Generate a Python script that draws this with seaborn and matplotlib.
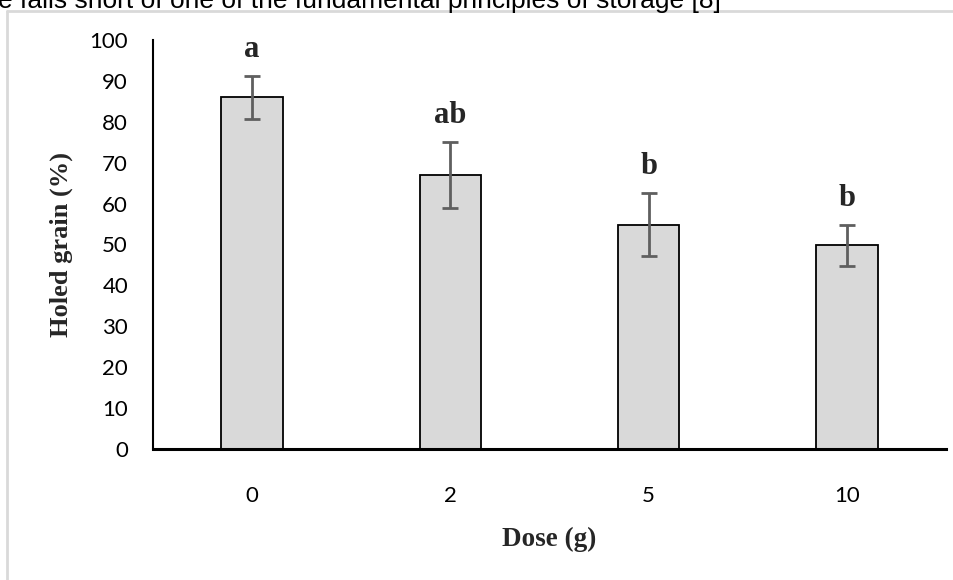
import numpy as np
import pandas as pd
import matplotlib
matplotlib.use("Agg")
import matplotlib.pyplot as plt
import seaborn as sns
from matplotlib.lines import Line2D

# data
doses = ["0", "2", "5", "10"]
holed_mean = [86.0, 67.0, 54.8, 49.8]
holed_err = [5.2, 8.0, 7.7, 5.0]
groups = ["a", "ab", "b", "b"]

df = pd.DataFrame({"dose": doses, "holed": holed_mean})

sns.set_theme(style="white")
plt.rcParams["font.family"] = ["Lato", "DejaVu Sans"]

fig = plt.figure(figsize=(9.54, 5.8), dpi=100)
ax = fig.add_axes([0.1604, 0.2259, 0.8312, 0.7051])

sns.barplot(data=df, x="dose", y="holed", order=doses, color="#d9d9d9",
            edgecolor="black", linewidth=1.3, width=0.31, errorbar=None,
            saturation=1, ax=ax)

# custom error bars at the bar centres
xs = [p.get_x() + p.get_width() / 2 for p in ax.patches]
ax.errorbar(xs, holed_mean, yerr=holed_err, fmt="none", ecolor="#5f5f5f",
            elinewidth=2, capsize=6, capthick=2)

# significance letters
for x, m, e, g in zip(xs, holed_mean, holed_err, groups):
    ax.text(x, m + e + 3.0, g, ha="center", va="bottom",
            fontsize=22, fontweight="bold", family="Liberation Serif")

ax.set_ylim(0, 100)
ax.set_xlim(-0.5, 3.5)
ax.set_yticks(np.arange(0, 101, 10))
ax.tick_params(axis="both", length=0, labelsize=16, colors="black")
ax.tick_params(axis="y", pad=18)
ax.tick_params(axis="x", pad=27)

sns.despine(ax=ax, top=True, right=True)
ax.spines["left"].set_color("black")
ax.spines["left"].set_linewidth(1.5)
ax.spines["bottom"].set_color("black")
ax.spines["bottom"].set_linewidth(2.2)

ax.set_ylabel("Holed grain (%)", fontsize=19, fontweight="bold",
              family="Liberation Serif")
ax.set_xlabel("Dose (g)", fontsize=19.5, fontweight="bold",
              family="Liberation Serif")
ax.yaxis.set_label_coords(-0.101, 0.5)
ax.xaxis.set_label_coords(0.5, -0.19)

# page remnants around the chart
fig.text(-0.002, 1 - 8 / 580, "e falls short of one of the fundamental principles of storage [8]",
         fontsize=19, family="Liberation Sans", va="baseline", ha="left", color="black")
fig.add_artist(Line2D([7 / 954, 7 / 954], [0, 1 - 11 / 580], color="#d9d9d9", lw=2))
fig.add_artist(Line2D([7 / 954, 1], [1 - 11 / 580, 1 - 11 / 580], color="#d9d9d9", lw=2))

fig.savefig("out.png", dpi=100)
